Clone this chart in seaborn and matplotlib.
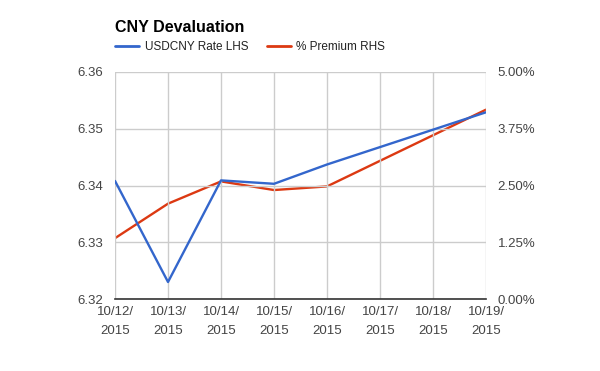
import matplotlib
matplotlib.use("Agg")
import matplotlib.pyplot as plt
import seaborn as sns
import numpy as np
import pandas as pd
from matplotlib.lines import Line2D
from matplotlib.ticker import FuncFormatter

dates = ["10/12/\n2015", "10/13/\n2015", "10/14/\n2015", "10/15/\n2015",
         "10/16/\n2015", "10/17/\n2015", "10/18/\n2015", "10/19/\n2015"]
usdcny = [6.3408, 6.3230, 6.3409, 6.3403, 6.3437, np.nan, np.nan, 6.3529]
premium = [1.34, 2.10, 2.59, 2.40, 2.48, np.nan, np.nan, 4.17]

sns.set_theme(style="white")
plt.rcParams['font.family'] = ['Liberation Sans', 'DejaVu Sans']

df = pd.DataFrame({"pos": np.arange(len(dates)), "usd": usdcny, "prem": premium})

fig = plt.figure(figsize=(6.0, 3.71), dpi=100)
ax = fig.add_axes([0.1917, 0.194, 0.8100 - 0.1917, 0.806 - 0.194])
ax2 = ax.twinx()

blue = "#3366cc"
red = "#dc3912"
d1 = df.dropna(subset=["usd"])
d2 = df.dropna(subset=["prem"])
sns.lineplot(data=d1, x="pos", y="usd", ax=ax, color=blue, linewidth=1.7, legend=False)
sns.lineplot(data=d2, x="pos", y="prem", ax=ax2, color=red, linewidth=1.7, legend=False)

ax.set_xlim(0, len(dates) - 1)
ax.set_ylim(6.32, 6.36)
ax.set_yticks([6.32, 6.33, 6.34, 6.35, 6.36])
ax.yaxis.set_major_formatter(FuncFormatter(lambda v, p: f"{v:.2f}"))
ax2.set_ylim(0, 5)
ax2.set_yticks([0, 1.25, 2.5, 3.75, 5.0])
ax2.yaxis.set_major_formatter(FuncFormatter(lambda v, p: f"{v:.2f}%"))
ax.set_xticks(np.arange(len(dates)))
ax.set_xticklabels(dates, linespacing=1.75)

for a in (ax, ax2):
    a.set_xlabel("")
    a.set_ylabel("")
    for s in a.spines.values():
        s.set_visible(False)
    a.tick_params(length=0, labelsize=9.5, colors="#444444", pad=8.5)
ax.grid(True, color="#cccccc", linewidth=1)
ax2.grid(False)
ax.spines["bottom"].set_visible(True)
ax.spines["bottom"].set_color("#333333")
ax.spines["bottom"].set_linewidth(1.2)
ax.set_zorder(ax2.get_zorder() + 1)
ax.patch.set_visible(False)
ax.tick_params(axis="x", pad=5)

fig.text(0.1917, 0.915, "CNY Devaluation", fontsize=11.5, fontweight="bold", color="#000000")
handles = [Line2D([], [], color=blue, linewidth=2), Line2D([], [], color=red, linewidth=2)]
fig.legend(handles, ["USDCNY Rate LHS", "% Premium RHS"], loc="center left",
           bbox_to_anchor=(0.174, 0.873), ncol=2, frameon=False, fontsize=8.5,
           handlelength=2.0, handletextpad=0.5, columnspacing=1.6, labelcolor="#222222")

fig.savefig("out.png", dpi=100)
